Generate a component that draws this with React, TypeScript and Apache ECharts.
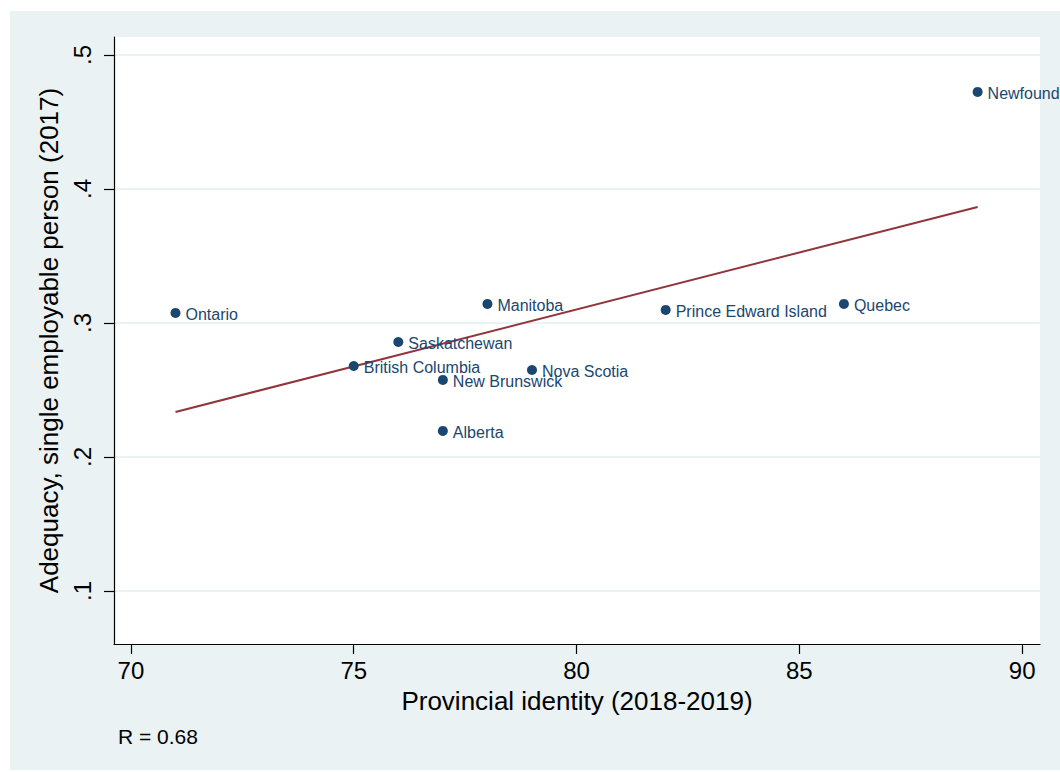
import React, { useEffect, useRef } from "react";
import * as echarts from "echarts";

const provinces = ["Ontario", "Newfoundland", "Quebec", "Prince Edward Island", "Manitoba", "Saskatchewan", "British Columbia", "New Brunswick", "Nova Scotia", "Alberta"];
const identity = [71, 89, 86, 82, 78, 76, 75, 77, 79, 77];
const adequacy = [0.3075, 0.4724, 0.3142, 0.3097, 0.3142, 0.2858, 0.2679, 0.2575, 0.2649, 0.2194];
const fitX = [71, 89];
const fitY = [0.2336, 0.3866];
const xTicks = [70, 75, 80, 85, 90];
const yTicks = [0.1, 0.2, 0.3, 0.4, 0.5];
const xTitle = "Provincial identity (2018-2019)";
const yTitle = "Adequacy, single employable person (2017)";
const note = "R = 0.68";

const FONT = "'Liberation Sans', Arial, Helvetica, sans-serif";
const BG = "#EAF2F3";
const NAVY = "#1A476F";
const MAROON = "#90353B";

export default function App() {
  const ref = useRef<HTMLDivElement>(null);
  useEffect(() => {
    if (!ref.current) return;
    const chart = echarts.init(ref.current, null, { renderer: "svg" });
    chart.setOption({
      animation: false,
      textStyle: { fontFamily: FONT },
      grid: { left: 114, top: 37, right: 20, bottom: 128, show: false },
      graphic: [
        { type: "rect", z: -20, shape: { x: 10, y: 11, width: 1050, height: 759 }, style: { fill: BG } },
        { type: "rect", z: -10, shape: { x: 114, y: 37, width: 926, height: 607 }, style: { fill: "#fff" } },
        { type: "text", z: 101, x: 118, y: 736, style: { text: note, fontSize: 21, fontFamily: FONT, fill: "#000", textVerticalAlign: "middle" } },
      ],
      xAxis: {
        type: "value",
        min: 69.62,
        max: 90.4,
        name: xTitle,
        nameLocation: "middle",
        nameGap: 44,
        nameTextStyle: { fontSize: 26, color: "#000", fontFamily: FONT },
        axisLine: { show: true, onZero: false, lineStyle: { color: "#000", width: 1.2 } },
        axisTick: { show: true, length: 10, customValues: xTicks, lineStyle: { color: "#000", width: 1.2 } },
        axisLabel: { customValues: xTicks, fontSize: 24, color: "#000", margin: 14, fontFamily: FONT },
        splitLine: { show: false },
      },
      yAxis: {
        type: "value",
        min: 0.0604,
        max: 0.5134,
        name: yTitle,
        nameLocation: "middle",
        nameRotate: 90,
        nameGap: 48,
        nameTextStyle: { fontSize: 26, color: "#000", fontFamily: FONT },
        axisLine: { show: true, onZero: false, lineStyle: { color: "#000", width: 1.2 } },
        axisTick: { show: true, length: 10, customValues: yTicks, lineStyle: { color: "#000", width: 1.2 } },
        axisLabel: {
          customValues: yTicks,
          rotate: 90,
          fontSize: 24,
          color: "#000",
          margin: 20,
          fontFamily: FONT,
          formatter: (v: number) => String(Math.round(v * 10) / 10).replace(/^0/, ""),
        },
        splitLine: { show: true, lineStyle: { color: BG, width: 2 } },
      },
      series: [
        {
          type: "line",
          data: fitX.map((x, i) => [x, fitY[i]]),
          symbol: "none",
          lineStyle: { color: MAROON, width: 2 },
          z: 3,
        },
        {
          type: "scatter",
          data: identity.map((x, i) => ({ value: [x, adequacy[i]], name: provinces[i] })),
          symbolSize: 10,
          itemStyle: { color: NAVY, opacity: 1 },
          label: {
            show: true,
            position: "right",
            distance: 5,
            offset: [0, 2],
            formatter: (p: any) => p.name,
            color: NAVY,
            opacity: 1,
            fontSize: 16,
            fontFamily: FONT,
          },
          z: 4,
        },
      ],
    });
    return () => chart.dispose();
  }, []);
  return <div ref={ref} style={{ position: "absolute", left: 0, top: 0, width: 1060, height: 772 }} />;
}
